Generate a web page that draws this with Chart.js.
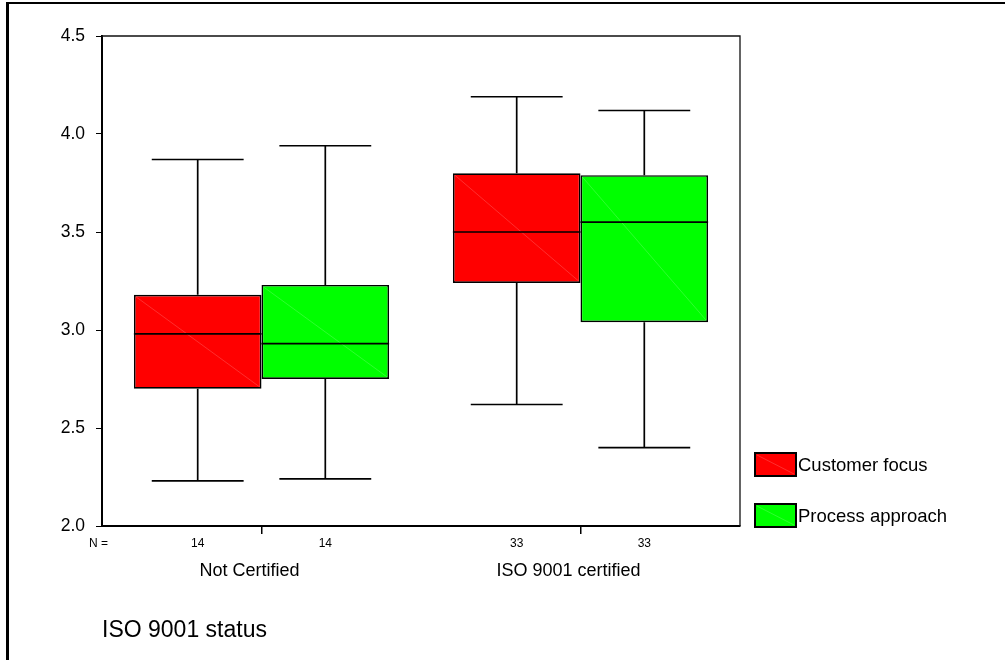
<!DOCTYPE html>
<html>
<head>
<meta charset="utf-8">
<script src="https://cdn.jsdelivr.net/npm/chart.js@4.4.1/dist/chart.umd.min.js"></script>
<style>
  html, body { margin: 0; padding: 0; background: #fff; }
  #wrap { position: relative; width: 1005px; height: 660px; }
</style>
</head>
<body>
<div id="wrap"><canvas id="c" width="1005" height="660"></canvas></div>
<script>
// ---- data ----
const categories = ['Not Certified', 'ISO 9001 certified'];
const seriesNames = ['Customer focus', 'Process approach'];
const yTickLabels = ['2.0', '2.5', '3.0', '3.5', '4.0', '4.5'];

const customerMin    = [2.23, 2.62];
const customerQ1     = [2.70, 3.24];
const customerMedian = [2.98, 3.50];
const customerQ3     = [3.18, 3.80];
const customerMax    = [3.87, 4.19];
const customerN      = [14, 33];

const processMin    = [2.24, 2.40];
const processQ1     = [2.75, 3.04];
const processMedian = [2.93, 3.55];
const processQ3     = [3.23, 3.79];
const processMax    = [3.94, 4.12];
const processN      = [14, 33];

const FONT = '"Liberation Sans", Arial, sans-serif';
const seriesColors = ['#ff0000', '#00ff00'];

function makeDataset(label, color, q1, q3, mn, med, mx, n) {
  return {
    label: label,
    data: categories.map((_, i) => [q1[i], q3[i]]),
    backgroundColor: color,
    borderColor: '#000',
    borderWidth: 1.7,
    borderSkipped: false,
    categoryPercentage: 0.8,
    barPercentage: 1.0,
    statMin: mn, statMedian: med, statMax: mx, statN: n
  };
}

const boxPlugin = {
  id: 'boxExtras',
  beforeDraw(chart) {
    const ctx = chart.ctx;
    ctx.save();
    ctx.fillStyle = '#fff';
    ctx.fillRect(0, 0, chart.width, chart.height);
    ctx.fillStyle = '#000';
    ctx.fillRect(6, 2, 999, 2);
    ctx.fillRect(6, 2, 3, 658);
    ctx.restore();
  },
  afterDatasetsDraw(chart) {
    const ctx = chart.ctx;
    const ys = chart.scales.y;
    const a = chart.chartArea;
    ctx.save();
    // top and right frame of plot
    ctx.strokeStyle = '#111';
    ctx.lineWidth = 1.3;
    ctx.beginPath();
    ctx.moveTo(a.left, a.top);
    ctx.lineTo(a.right, a.top);
    ctx.lineTo(a.right, a.bottom);
    ctx.stroke();

    chart.data.datasets.forEach((ds, di) => {
      const meta = chart.getDatasetMeta(di);
      meta.data.forEach((bar, i) => {
        const p = bar.getProps(['x', 'y', 'base', 'width'], true);
        const left = p.x - p.width / 2, right = p.x + p.width / 2;
        const top = Math.min(p.y, p.base), bottom = Math.max(p.y, p.base);
        // faint diagonal
        ctx.strokeStyle = 'rgba(255,255,255,0.3)';
        ctx.lineWidth = 0.6;
        ctx.beginPath();
        ctx.moveTo(left + 2, top + 2);
        ctx.lineTo(right - 2, bottom - 2);
        ctx.stroke();
        // median
        ctx.strokeStyle = '#000';
        ctx.lineWidth = 1.7;
        const ym = ys.getPixelForValue(ds.statMedian[i]);
        ctx.beginPath();
        ctx.moveTo(left, ym);
        ctx.lineTo(right, ym);
        ctx.stroke();
        // whiskers
        const yMax = ys.getPixelForValue(ds.statMax[i]);
        const yMin = ys.getPixelForValue(ds.statMin[i]);
        const half = p.width * 0.36;
        ctx.beginPath();
        ctx.moveTo(p.x, top); ctx.lineTo(p.x, yMax);
        ctx.moveTo(p.x - half, yMax); ctx.lineTo(p.x + half, yMax);
        ctx.moveTo(p.x, bottom); ctx.lineTo(p.x, yMin);
        ctx.moveTo(p.x - half, yMin); ctx.lineTo(p.x + half, yMin);
        ctx.stroke();
        // N labels
        ctx.fillStyle = '#000';
        ctx.font = '12px ' + FONT;
        ctx.textAlign = 'center';
        ctx.textBaseline = 'middle';
        ctx.fillText(String(ds.statN[i]), p.x, a.bottom + 18);
      });
    });
    ctx.font = '12px ' + FONT;
    ctx.textAlign = 'left';
    ctx.textBaseline = 'middle';
    ctx.fillStyle = '#000';
    ctx.fillText('N =', 89, a.bottom + 18);
    ctx.restore();
  },
  afterDraw(chart) {
    const ctx = chart.ctx;
    ctx.save();
    const items = chart.data.datasets;
    const sy = [453, 504];
    items.forEach((ds, i) => {
      const x0 = 755, y0 = sy[i], w = 41, h = 23;
      ctx.fillStyle = ds.backgroundColor;
      ctx.fillRect(x0, y0, w, h);
      ctx.strokeStyle = 'rgba(255,255,255,0.3)';
      ctx.lineWidth = 0.6;
      ctx.beginPath();
      ctx.moveTo(x0 + 2, y0 + 2);
      ctx.lineTo(x0 + w - 2, y0 + h - 2);
      ctx.stroke();
      ctx.strokeStyle = '#000';
      ctx.lineWidth = 2;
      ctx.strokeRect(x0, y0, w, h);
      ctx.fillStyle = '#000';
      ctx.font = '18.5px ' + FONT;
      ctx.textAlign = 'left';
      ctx.textBaseline = 'middle';
      ctx.fillText(ds.label, 798, y0 + h / 2 + 1);
    });
    ctx.restore();
  }
};

new Chart(document.getElementById('c'), {
  type: 'bar',
  data: {
    labels: categories,
    datasets: [
      makeDataset(seriesNames[0], seriesColors[0], customerQ1, customerQ3, customerMin, customerMedian, customerMax, customerN),
      makeDataset(seriesNames[1], seriesColors[1], processQ1, processQ3, processMin, processMedian, processMax, processN)
    ]
  },
  options: {
    responsive: false,
    animation: false,
    layout: { padding: { left: 0, top: 36, right: 265, bottom: 0 } },
    plugins: { legend: { display: false }, tooltip: { enabled: false } },
    scales: {
      x: {
        offset: true,
        grid: { display: true, offset: false, drawOnChartArea: false, drawTicks: true, tickLength: 8, color: '#000', lineWidth: 1.5 },
        border: { display: true, color: '#000', width: 2 },
        ticks: { color: '#000', font: { family: FONT, size: 18 }, padding: 26, labelOffset: -12, maxRotation: 0, autoSkip: false },
        title: { display: true, text: 'ISO 9001 status', align: 'start', color: '#000', font: { family: FONT, size: 23 }, padding: { top: 0, bottom: 16 } },
        afterFit(scale) { scale.height = 134; }
      },
      y: {
        min: 2, max: 4.5,
        grid: { display: true, drawOnChartArea: false, drawTicks: true, tickLength: 6, color: '#000', lineWidth: 1 },
        border: { display: true, color: '#000', width: 2 },
        ticks: {
          stepSize: 0.5, color: '#000', padding: 11, font: { family: FONT, size: 17.5 },
          callback: (v, idx) => yTickLabels[idx]
        },
        afterFit(scale) { scale.width = 102; }
      }
    }
  },
  plugins: [boxPlugin]
});
</script>
</body>
</html>
